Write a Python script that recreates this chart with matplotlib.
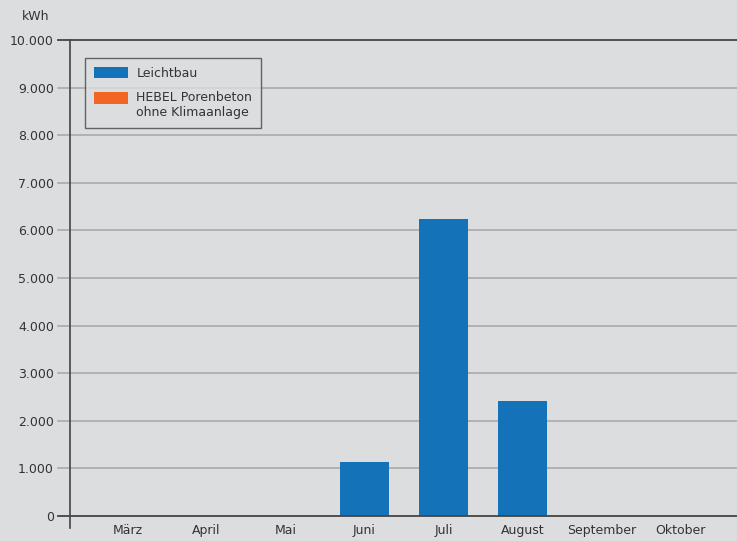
import matplotlib
matplotlib.use("Agg")
import matplotlib.pyplot as plt
from matplotlib.patches import Patch, Rectangle
from matplotlib.legend_handler import HandlerPatch
from matplotlib.ticker import FuncFormatter
import matplotlib.transforms as mtransforms

months = ["März", "April", "Mai", "Juni", "Juli", "August", "September", "Oktober"]
leichtbau = [0, 0, 0, 1130, 6230, 2420, 0, 0]
hebel = [0, 0, 0, 0, 0, 0, 0, 0]
yticks = [0, 1000, 2000, 3000, 4000, 5000, 6000, 7000, 8000, 9000, 10000]

BG = "#dcdddf"
BLUE = "#1472b8"
ORANGE = "#f26522"
TXT = "#333333"
GRID = "#a6a6a6"
DARK = "#444444"

plt.rcParams['font.family'] = ['DejaVu Sans']
plt.rcParams['font.size'] = 9

W, H = 737, 541
fig = plt.figure(figsize=(W / 100, H / 100), dpi=100, facecolor=BG)
ax = fig.add_axes([70 / W, 1 - 516 / H, (W - 70) / W, (516 - 40) / H])
ax.set_facecolor(BG)

x = list(range(len(months)))
ax.bar(x, leichtbau, width=0.62, color=BLUE, zorder=3)
ax.bar(x, hebel, width=0.62, color=ORANGE, zorder=3)

ax.set_xlim(-0.728, 7.715)
ax.set_ylim(0, 10000)
ax.set_yticks(yticks)
ax.yaxis.set_major_formatter(FuncFormatter(lambda v, p: f"{int(v):,}".replace(",", ".")))
ax.set_xticks(x)
ax.set_xticklabels(months)
ax.tick_params(axis='y', length=0, pad=11.5, labelcolor=TXT, labelsize=9)
ax.tick_params(axis='x', length=0, pad=6, labelcolor=TXT, labelsize=9)

for s in ax.spines.values():
    s.set_visible(False)

trans = mtransforms.blended_transform_factory(ax.transAxes, ax.transData)
ext = 12 / (W - 70)
for v in yticks:
    dark = v in (0, 10000)
    ax.plot([-ext, 1], [v, v], transform=trans, clip_on=False,
            color=DARK if dark else GRID, lw=1.3 if dark else 1.1,
            zorder=4 if dark else 1)

# left axis line extending below zero
ax.plot([0, 0], [1.0, -12 / 476], transform=ax.transAxes, clip_on=False,
        color=DARK, lw=1.2, zorder=5)

fig.text(36 / W, 1 - 16 / H, "kWh", ha="center", va="center", color=TXT, fontsize=9)


def shifted_patch(shift):
    def f(legend, orig_handle, xdescent, ydescent, width, height, fontsize):
        return Rectangle((-xdescent, -ydescent + shift), width, height)
    return f


blue_h = Patch(facecolor=BLUE, edgecolor="none")
orange_h = Patch(facecolor=ORANGE, edgecolor="none")
leg = ax.legend([blue_h, orange_h], ["Leichtbau", "HEBEL Porenbeton\nohne Klimaanlage"],
                loc="upper left", bbox_to_anchor=((85 - 70) / (W - 70), (516 - 58) / 476),
                borderaxespad=0, frameon=True, fancybox=False,
                handlelength=2.7, handleheight=1.04, handletextpad=0.72,
                labelspacing=0.9, borderpad=0.7, fontsize=9, labelcolor=TXT,
                handler_map={orange_h: HandlerPatch(patch_func=shifted_patch(5.4))})
leg.get_frame().set_edgecolor(DARK)
leg.get_frame().set_facecolor(BG)
leg.get_frame().set_linewidth(1.0)
leg.set_zorder(6)

fig.savefig("out.png", dpi=100, facecolor=BG)
